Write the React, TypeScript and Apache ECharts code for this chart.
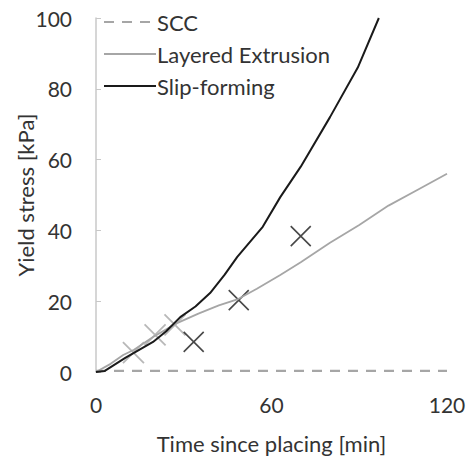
import React, { useEffect, useRef } from "react";
import * as echarts from "echarts";

const legendNames = ["SCC", "Layered Extrusion", "Slip-forming"];
const sccData: [number, number][] = [[0, 0.3], [120, 0.3]];
const layeredData: [number, number][] = [
  [0, 0], [5, 2.3], [9.3, 4.8], [13, 6.3], [19.5, 9.9], [27.7, 13.8], [35, 16.5],
  [42, 18.8], [48.3, 20.5], [55, 23.5], [63, 27.4], [70, 31], [80, 36.5], [90, 41.5],
  [100, 47], [110, 51.5], [120, 56],
];
const slipData: [number, number][] = [
  [0, 0], [3, 0.3], [10, 4], [19.5, 8.5], [24, 11.5], [28.8, 15.5], [34, 18.5],
  [39, 22.3], [44, 27.5], [48.3, 32.5], [57, 41], [63, 49.4], [70, 58], [80, 72],
  [89.5, 86], [96.7, 100],
];
const layeredMarks: [number, number][] = [[12.8, 5.5], [20.2, 10.5], [27, 13.3]];
const slipMarks: [number, number][] = [[33.4, 8.5], [48.8, 20.3], [70, 38.4]];

const FONT = "Lato";
const X_SYMBOL = "path://M0,0L20,20M20,0L0,20";
const TEXT_COLOR = "#333333";

export default function App() {
  const ref = useRef<HTMLDivElement>(null);
  useEffect(() => {
    document.body.style.margin = "0";
    const chart = echarts.init(ref.current!, undefined, { renderer: "svg" });
    chart.setOption({
      animation: false,
      backgroundColor: "#ffffff",
      textStyle: { fontFamily: FONT },
      grid: {
        left: 96, right: 23, top: 18, bottom: 84,
        containLabel: false, outerBoundsMode: "none",
      },
      legend: {
        data: legendNames,
        orient: "vertical",
        left: 98,
        top: 6,
        itemWidth: 52,
        itemHeight: 14,
        itemGap: 10,
        itemStyle: { opacity: 0 },
        textStyle: { fontSize: 22, color: TEXT_COLOR, fontFamily: FONT, padding: [0, 0, 0, -4] },
      },
      xAxis: {
        type: "value",
        min: 0,
        max: 120,
        interval: 60,
        name: "Time since placing [min]",
        nameLocation: "middle",
        nameGap: 60,
        nameMoveOverlap: false,
        nameTextStyle: { fontSize: 22, color: TEXT_COLOR, fontFamily: FONT },
        axisLine: { show: false },
        axisTick: { show: false },
        splitLine: { show: false },
        axisLabel: { fontSize: 21, color: TEXT_COLOR, margin: 22, fontFamily: FONT },
      },
      yAxis: {
        type: "value",
        min: 0,
        max: 100,
        interval: 20,
        name: "Yield stress [kPa]",
        nameLocation: "middle",
        nameGap: 60,
        nameMoveOverlap: false,
        nameTextStyle: { fontSize: 22, color: TEXT_COLOR, fontFamily: FONT },
        axisLine: { show: true, lineStyle: { color: "#c8c8c8", width: 1.5 } },
        axisTick: { show: true, inside: true, length: 5, lineStyle: { color: "#c8c8c8" } },
        splitLine: { show: false },
        axisLabel: { fontSize: 21, color: TEXT_COLOR, margin: 24, fontFamily: FONT },
      },
      series: [
        {
          name: "SCC",
          type: "line",
          data: sccData,
          symbol: "none",
          lineStyle: { color: "#a6a6a6", width: 2.2, type: [10, 8] },
          itemStyle: { color: "#a6a6a6" },
        },
        {
          name: "Layered Extrusion",
          type: "line",
          data: layeredData,
          symbol: "none",
          lineStyle: { color: "#a6a6a6", width: 1.8 },
          itemStyle: { color: "#a6a6a6" },
        },
        {
          name: "Slip-forming",
          type: "line",
          data: slipData,
          symbol: "none",
          lineStyle: { color: "#1a1a1a", width: 2 },
          itemStyle: { color: "#1a1a1a" },
        },
        {
          name: "layeredMarks",
          type: "scatter",
          data: layeredMarks,
          symbol: X_SYMBOL,
          symbolSize: 21,
          itemStyle: { color: "none", borderColor: "#a6a6a6", borderWidth: 1.8 },
        },
        {
          name: "slipMarks",
          type: "scatter",
          data: slipMarks,
          symbol: X_SYMBOL,
          symbolSize: 20,
          itemStyle: { color: "none", borderColor: "#1a1a1a", borderWidth: 1.6 },
        },
      ],
    });
    return () => chart.dispose();
  }, []);
  return <div ref={ref} style={{ width: 470, height: 456 }} />;
}
